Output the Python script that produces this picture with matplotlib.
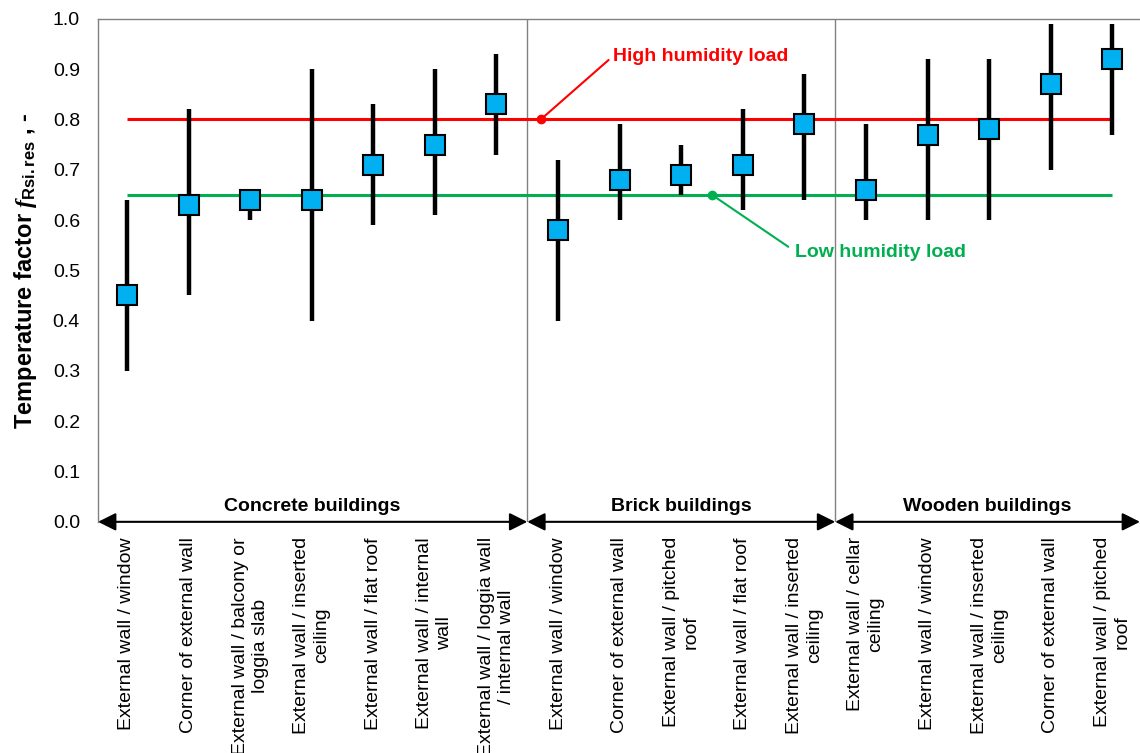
import matplotlib.pyplot as plt
import numpy as np

plt.rcParams['font.family'] = ['Liberation Sans', 'DejaVu Sans']
plt.rcParams['mathtext.fontset'] = 'custom'
plt.rcParams['mathtext.it'] = 'Liberation Serif:italic:bold'
plt.rcParams['mathtext.rm'] = 'Liberation Sans:bold'

labels = ["External wall / window",
          "Corner of external wall",
          "External wall / balcony or\nloggia slab",
          "External wall / inserted\nceiling",
          "External wall / flat roof",
          "External wall / internal\nwall",
          "External wall / loggia wall\n/ internal wall",
          "External wall / window",
          "Corner of external wall",
          "External wall / pitched\nroof",
          "External wall / flat roof",
          "External wall / inserted\nceiling",
          "External wall / cellar\nceiling",
          "External wall / window",
          "External wall / inserted\nceiling",
          "Corner of external wall",
          "External wall / pitched\nroof"]
center = [0.45, 0.63, 0.64, 0.64, 0.71, 0.75, 0.83,
          0.58, 0.68, 0.69, 0.71, 0.79,
          0.66, 0.77, 0.78, 0.87, 0.92]
low = [0.30, 0.45, 0.60, 0.40, 0.59, 0.61, 0.73,
       0.40, 0.60, 0.65, 0.62, 0.64,
       0.60, 0.60, 0.60, 0.70, 0.77]
high = [0.64, 0.82, 0.66, 0.90, 0.83, 0.90, 0.93,
        0.72, 0.79, 0.75, 0.82, 0.89,
        0.79, 0.92, 0.92, 0.99, 0.99]
groups = ["Concrete buildings", "Brick buildings", "Wooden buildings"]
group_sizes = [7, 5, 5]
high_load = 0.80
low_load = 0.65

fig = plt.figure(figsize=(11.4, 7.53), dpi=100)
ax = fig.add_axes([0.086, 0.307, 0.914, 0.668])

x = np.arange(len(center))
xmin, xmax = -0.47, 16.45

# limit lines
ax.hlines(high_load, x[0], x[-1], color='#FF0000', lw=2.2, zorder=2)
ax.hlines(low_load, x[0], x[-1], color='#00B050', lw=2.2, zorder=2)

# ranges and mean values
ax.vlines(x, low, high, color='black', lw=3.2, zorder=3)
ax.plot(x, center, 's', ms=14, mfc='#00B0F0', mec='black', mew=1.5, zorder=4)

# group separators and arrows
edges = [xmin] + list(np.cumsum(group_sizes)[:-1] - 0.5) + [xmax]
for e in edges[1:-1]:
    ax.axvline(e, color='#808080', lw=1, zorder=1)
for i, g in enumerate(groups):
    a, b = edges[i], edges[i + 1]
    ax.annotate('', xy=(a, 0), xytext=(b, 0), annotation_clip=False,
                arrowprops=dict(arrowstyle='<|-|>', color='black', lw=1.5,
                                mutation_scale=27, shrinkA=0, shrinkB=0))
    ax.text((a + b) / 2, 0.014, g, ha='center', va='bottom',
            fontsize=14, fontweight='bold')

# labels for the limit lines
ax.plot(6.72, high_load, 'o', color='#FF0000', ms=6, zorder=5)
ax.annotate('High humidity load', xy=(6.72, high_load), xytext=(7.9, 0.925),
            color='#FF0000', fontsize=14, fontweight='bold', ha='left', va='center',
            arrowprops=dict(arrowstyle='-', color='#FF0000', lw=1.5,
                            shrinkA=2, shrinkB=0, relpos=(0, 0.55)))
ax.plot(9.5, low_load, 'o', color='#00B050', ms=6, zorder=5)
ax.annotate('Low humidity load', xy=(9.5, low_load), xytext=(10.84, 0.535),
            color='#00B050', fontsize=14, fontweight='bold', ha='left', va='center',
            arrowprops=dict(arrowstyle='-', color='#00B050', lw=1.5,
                            shrinkA=3, shrinkB=0, relpos=(0, 0.6)))

ax.set_xlim(xmin, xmax)
ax.set_ylim(0, 1)
ax.set_yticks(np.arange(0, 1.01, 0.1))
ax.set_yticklabels(['%.1f' % v for v in np.arange(0, 1.01, 0.1)], fontsize=14)
ax.set_xticks(x)
ax.set_xticklabels(labels, rotation=90, fontsize=14, ma='center', linespacing=1.25)
ax.tick_params(axis='y', length=0, pad=13)
ax.tick_params(axis='x', length=0, pad=11)
ax.set_ylabel(r'Temperature factor $f_{\mathrm{Rsi.res}}$ , -', fontsize=17,
              fontweight='bold', labelpad=10)

for s in ['right', 'bottom']:
    ax.spines[s].set_visible(False)
for s in ['top', 'left']:
    ax.spines[s].set_color('#808080')
    ax.spines[s].set_linewidth(1)

fig.savefig('out.png', dpi=100)
